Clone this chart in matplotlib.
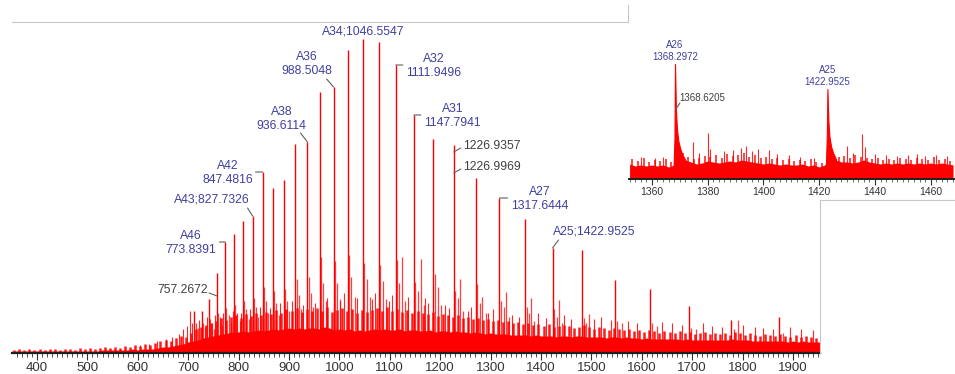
import numpy as np
import matplotlib
matplotlib.use('Agg')
import matplotlib.pyplot as plt
from matplotlib.lines import Line2D

plt.rcParams['font.family'] = ['Liberation Sans', 'DejaVu Sans']

W, H = 955, 374

# charge-state series (m/z, intensity in arbitrary units)
peak_mz = [712.0, 726.5, 741.6, 757.3, 773.8, 791.0, 808.9, 827.7, 847.5, 868.0,
           889.7, 912.5, 936.6, 961.8, 988.5, 1016.7, 1046.55, 1078.2, 1111.95, 1147.8,
           1185.9, 1226.9, 1270.6, 1317.6, 1368.3, 1422.95, 1482.2, 1546.6, 1616.8, 1693.7,
           1778.0, 1872.0]
peak_h = [42, 42, 54, 80, 111, 119, 132, 137, 181, 165,
          173, 209, 211, 261, 266, 303, 314, 311, 288, 238,
          214, 208, 175, 155, 134, 105, 103, 73, 64, 47,
          33, 36]

# adduct / satellite peaks next to each charge state
minor_mz = [715, 719, 729, 733, 744, 748, 752, 760, 764, 768, 776, 780, 785,
            793, 797, 802, 811, 815, 820, 830, 834, 839, 850, 854, 859,
            870, 874, 880, 892, 896, 901, 915, 919, 924, 939, 943, 948,
            964, 968, 974, 991, 995, 1001, 1019, 1024, 1030, 1049, 1054, 1060,
            1081, 1086, 1092, 1115, 1119, 1124, 1130, 1151, 1156, 1161, 1167,
            1189, 1196, 1202, 1230, 1235, 1240, 1246, 1274, 1279, 1283, 1290,
            1321, 1326, 1330, 1337, 1372, 1376, 1380, 1387, 1426, 1431, 1435, 1441,
            1486, 1490, 1495, 1550, 1560, 1621, 1630, 1698, 1708, 1782, 1791, 1880]
minor_h = [30, 25, 30, 26, 34, 30, 24, 40, 36, 28, 45, 38, 30,
           48, 40, 32, 52, 44, 34, 55, 46, 36, 66, 52, 40,
           62, 50, 38, 64, 52, 42, 74, 58, 44, 76, 60, 46,
           96, 70, 52, 92, 70, 54, 98, 76, 56, 90, 74, 56,
           88, 72, 54, 93, 70, 96, 52, 71, 62, 94, 48,
           79, 66, 48, 62, 55, 74, 42, 69, 50, 56, 40,
           52, 46, 61, 36, 46, 40, 55, 32, 44, 36, 53, 30,
           35, 30, 39, 32, 30, 30, 27, 25, 24, 24, 33, 20]

# isolated small noise spikes
small_mz = [605, 622, 638, 655, 668, 681, 690, 698, 703, 708, 722, 738, 754, 770, 788, 805,
            822, 842, 862, 883, 905, 928, 952, 975, 1002, 1010, 1035, 1064, 1070, 1098, 1105,
            1137, 1170, 1176, 1210, 1218, 1256, 1262, 1295, 1305, 1342, 1356, 1395, 1410, 1445,
            1460, 1505, 1520, 1538, 1572, 1590, 1640, 1660, 1680, 1722, 1740, 1760, 1800, 1825,
            1840, 1860, 1895, 1915, 1940]
small_h = [8, 9, 12, 14, 16, 19, 24, 27, 42, 30, 33, 36, 38, 40, 42, 40,
           44, 46, 45, 50, 52, 48, 50, 55, 52, 60, 55, 54, 60, 52, 58,
           56, 55, 50, 48, 45, 42, 46, 40, 44, 38, 36, 40, 35, 38,
           34, 34, 36, 33, 32, 30, 31, 30, 28, 30, 27, 26, 28, 26,
           25, 24, 26, 24, 23]

# noise band, every 10 m/z from 350: solid part and ragged top
base_mz = np.arange(350, 1970, 10)
base_h = [2, 2, 2, 2, 2, 2, 2, 2, 2, 2,
          2, 2, 2, 2, 2, 2, 2, 2, 3, 3,
          3, 3, 3, 3, 4, 3, 4, 4, 4, 5,
          6, 6, 7, 8, 9, 11, 12, 13, 15, 16,
          17, 18, 19, 20, 21, 21, 22, 21, 22, 23,
          22, 23, 24, 23, 24, 25, 24, 25, 24, 25,
          25, 24, 26, 25, 23, 24, 23, 24, 22, 23,
          22, 23, 24, 23, 24, 23, 23, 24, 22, 23,
          23, 22, 22, 23, 21, 22, 22, 21, 22, 21,
          21, 20, 21, 20, 19, 20, 19, 19, 19, 18,
          18, 18, 18, 17, 18, 17, 17, 17, 16, 17,
          17, 16, 17, 17, 16, 16, 16, 16, 15, 16,
          16, 15, 16, 15, 15, 14, 15, 14, 14, 14,
          14, 14, 14, 13, 14, 13, 13, 13, 13, 13,
          13, 13, 13, 14, 13, 13, 13, 12, 12, 12,
          12, 12, 12, 12, 11, 12, 11, 12, 11, 11,
          11, 11]
fuzz_mz = np.arange(355, 1960, 10)
fuzz_h = [3, 4, 3, 4, 3, 4, 3, 4, 4, 3,
          4, 4, 3, 5, 4, 5, 4, 5, 6, 5,
          6, 5, 7, 6, 8, 7, 9, 8, 10, 12,
          13, 12, 15, 17, 16, 20, 24, 26, 28, 30,
          32, 35, 33, 36, 38, 35, 39, 37, 40, 38,
          41, 39, 43, 40, 44, 42, 45, 41, 44, 42,
          45, 42, 46, 41, 43, 45, 42, 44, 40, 43,
          41, 43, 45, 42, 46, 42, 44, 41, 43, 40,
          42, 40, 39, 41, 37, 39, 38, 36, 38, 35,
          36, 34, 35, 33, 34, 32, 33, 31, 32, 30,
          31, 29, 30, 28, 29, 27, 29, 26, 27, 28,
          27, 25, 26, 28, 26, 24, 26, 25, 23, 25,
          24, 23, 24, 22, 23, 21, 23, 22, 20, 22,
          21, 20, 22, 20, 21, 19, 20, 21, 19, 20,
          19, 20, 18, 21, 20, 18, 20, 18, 17, 19,
          18, 17, 19, 17, 16, 18, 16, 17, 16, 15,
          16]

# inset (zoom 1352-1469)
inset_base_mz = np.arange(1352, 1470, 2)
inset_base_h = [15, 13, 14, 13, 14, 13, 14, 12, 14, 24,
                19, 17, 15, 16, 18, 17, 16, 17, 18, 17,
                19, 18, 17, 16, 15, 16, 15, 14, 15, 14,
                14, 15, 13, 14, 12, 14, 24, 19, 17, 17,
                16, 17, 19, 17, 16, 15, 16, 15, 16, 15,
                16, 15, 16, 15, 16, 15, 16, 15, 14]
inset_fuzz_mz = np.arange(1353, 1469, 2)
inset_fuzz_h = [20, 18, 21, 17, 19, 18, 20, 17, 30, 26,
                22, 20, 21, 23, 22, 24, 21, 25, 23, 24,
                26, 22, 24, 21, 22, 20, 21, 19, 20, 18,
                19, 18, 20, 17, 16, 30, 25, 22, 23, 21,
                24, 22, 21, 20, 21, 19, 20, 19, 21, 20,
                19, 21, 20, 19, 22, 19, 20, 18]
a26_mz = [1367.8, 1368.1, 1368.3, 1368.62, 1369.0, 1369.5, 1370.2, 1371.0, 1372.0]
a26_h = [14, 40, 115, 70, 50, 38, 30, 24, 19]
a25_mz = [1422.4, 1422.75, 1422.95, 1423.3, 1423.7, 1424.3, 1425.0, 1426.0]
a25_h = [13, 45, 90, 58, 42, 32, 26, 20]
inset_spike_mz = [1356, 1361, 1364, 1374.9, 1377, 1380.1, 1381, 1386, 1389, 1392, 1393.9,
                  1396, 1398, 1402, 1405, 1409, 1413, 1418, 1430.1, 1432, 1435.4, 1436.5,
                  1440, 1444, 1448, 1452, 1455, 1458, 1462, 1466]
inset_spike_h = [22, 21, 22, 37, 26, 46, 30, 28, 29, 31, 33,
                 28, 30, 29, 25, 24, 22, 21, 33, 26, 45, 32,
                 25, 24, 23, 24, 25, 23, 24, 23]

BLUE = '#4040a0'
GRAY = '#404040'
LEAD = '#606060'
RED = '#ff0000'

# text, m/z, intensity, text offset (px), ha, colour, leader offset (px) or None
main_labels = [
    ('A34;1046.5547', 1046.55, 314, (0, 8), 'center', BLUE, None),
    ('A36\n988.5048', 988.5, 266, (-27, 23), 'center', BLUE, (-7, 8)),
    ('A38\n936.6114', 936.6, 211, (-26, 23), 'center', BLUE, (-7, 9)),
    ('A42\n847.4816', 847.5, 181, (-35, -1), 'center', BLUE, (-7, 0)),
    ('A43;827.7326', 827.7, 137, (-41, 17), 'center', BLUE, (-5, 8)),
    ('A46\n773.8391', 773.8, 111, (-35, -1), 'center', BLUE, (-6, 0)),
    ('757.2672', 757.3, 57, (-9, 6), 'right', GRAY, (-8, 3)),
    ('A32\n1111.9496', 1111.95, 288, (38, -1), 'center', BLUE, (7, 0)),
    ('A31\n1147.7941', 1147.8, 238, (39, -1), 'center', BLUE, (7, 0)),
    ('1226.9357', 1226.9, 201, (9, 6), 'left', GRAY, (7, 4)),
    ('1226.9969', 1226.9, 180, (9, 6), 'left', GRAY, (7, 4)),
    ('A27\n1317.6444', 1317.6, 155, (40, -1), 'center', BLUE, (8, 0)),
    ('A25;1422.9525', 1422.95, 105, (0, 16), 'left', BLUE, (6, 8)),
]
inset_labels = [
    ('A26\n1368.2972', 1368.3, 115, (0, 13), 'center', BLUE, None),
    ('1368.6205', 1368.62, 70, (3, 11), 'left', GRAY, (4, 6)),
    ('A25\n1422.9525', 1422.95, 90, (0, 13), 'center', BLUE, None),
]


def put_labels(ax, labels, size):
    for text, mz, h, (dx, dy), ha, col, lead in labels:
        ax.annotate(text, xy=(mz, h), xytext=(dx, dy), textcoords='offset pixels',
                    ha=ha, va='center', color=col, fontsize=size,
                    linespacing=1.15, annotation_clip=False)
        if lead is not None:
            ax.annotate('', xy=(mz, h), xytext=lead, textcoords='offset pixels',
                        annotation_clip=False,
                        arrowprops=dict(arrowstyle='-', color=LEAD, lw=0.8,
                                        shrinkA=0, shrinkB=0))


def style_axis(a, lw):
    a.set_yticks([])
    for s in ['left', 'right', 'top']:
        a.spines[s].set_visible(False)
    a.spines['bottom'].set_linewidth(lw)
    a.spines['bottom'].set_color('#202020')


fig = plt.figure(figsize=(W / 100, H / 100), dpi=100)

# main spectrum
ax = fig.add_axes([12 / W, (H - 353) / H, 808 / W, 331 / H])
ax.fill_between(base_mz, 0, base_h, color=RED, lw=0, zorder=1)
ax.vlines(fuzz_mz, 0, fuzz_h, color=RED, lw=1.8, alpha=0.9, zorder=1)
ax.vlines(small_mz, 0, small_h, color=RED, lw=0.8, alpha=0.85, zorder=1)
ax.vlines(minor_mz, 0, minor_h, color=RED, lw=0.9, alpha=0.75, zorder=1)
ax.vlines(peak_mz, 0, peak_h, color=RED, lw=1.0, zorder=1)
ax.set_xlim(350.4, 1953.6)
ax.set_ylim(0, 331)
style_axis(ax, 1.6)
ax.set_xticks(np.arange(400, 2000, 100))
ax.set_xticks(np.arange(360, 1960, 10), minor=True)
ax.tick_params(axis='x', which='major', length=5, width=0.8, pad=1.5,
               labelsize=9.5, labelcolor='#333333', color='#303030')
ax.tick_params(axis='x', which='minor', length=3, width=0.6, color='#303030')
put_labels(ax, main_labels, 8.8)

# zoomed inset
ins = fig.add_axes([629 / W, (H - 179) / H, 326 / W, 149 / H])
ins.fill_between(inset_base_mz, 0, inset_base_h, color=RED, lw=0, zorder=1)
ins.vlines(inset_fuzz_mz, 0, inset_fuzz_h, color=RED, lw=1.2, alpha=0.85, zorder=1)
ins.vlines(inset_spike_mz, 0, inset_spike_h, color=RED, lw=0.8, alpha=0.85, zorder=1)
ins.fill_between(a26_mz, 0, a26_h, color=RED, lw=0.8, zorder=1)
ins.fill_between(a25_mz, 0, a25_h, color=RED, lw=0.8, zorder=1)
ins.set_xlim(1351.8, 1468.7)
ins.set_ylim(0, 149)
style_axis(ins, 1.4)
ins.set_xticks(np.arange(1360, 1470, 20))
ins.set_xticks(np.arange(1352, 1470, 2), minor=True)
ins.tick_params(axis='x', which='major', length=4, width=0.8, pad=1.5,
                labelsize=7.5, labelcolor='#333333', color='#303030')
ins.tick_params(axis='x', which='minor', length=2.5, width=0.5, color='#303030')
put_labels(ins, inset_labels, 7)

# light frame pieces around the panels
frame = [((12, 22), (628, 22)), ((628, 22), (628, 5)),
         ((820, 353), (820, 200)), ((820, 200), (955, 200))]
for (x0, y0), (x1, y1) in frame:
    fig.add_artist(Line2D([x0 / W, x1 / W], [1 - y0 / H, 1 - y1 / H],
                          transform=fig.transFigure, color='#c8c8c8', lw=0.8))

fig.savefig('out.png', dpi=100)
